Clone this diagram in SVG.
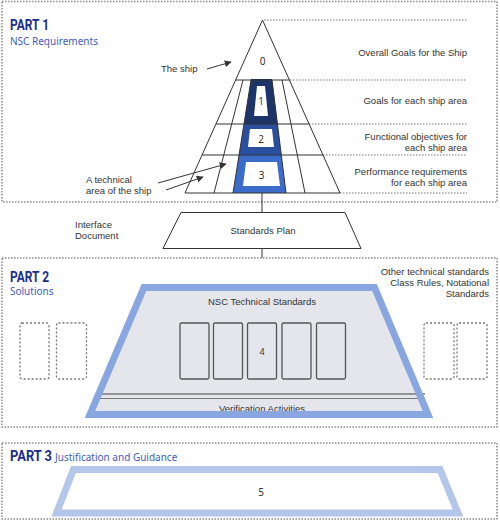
<svg xmlns="http://www.w3.org/2000/svg" width="500" height="523" viewBox="0 0 500 523">
<defs>
<style>
.box{fill:none;stroke:#8a8a8a;stroke-width:1.5;stroke-dasharray:1.5 1.5}
.dot{fill:none;stroke:#777;stroke-width:1.2;stroke-dasharray:1.5 1.5}
.ln{fill:none;stroke:#333;stroke-width:1}
.t{font-family:"Liberation Sans","Noto Sans",sans-serif;font-size:9.5px;fill:#333}
.r{text-anchor:end}
.c{text-anchor:middle}
.part{font-family:"Roboto","Liberation Sans",sans-serif;font-weight:bold;font-size:14px;fill:#1b2d8c}
.sub{font-family:"Noto Sans","Open Sans",sans-serif;font-size:10px;fill:#3f5cb8}
.num{font-family:"Noto Sans","Open Sans",sans-serif;font-size:10px;fill:#333;text-anchor:middle}
.std{fill:#e5e6eb;stroke:#555;stroke-width:1.3}
.dash{fill:none;stroke:#777;stroke-width:1.3;stroke-dasharray:2 2}
</style>
<marker id="ah" viewBox="0 0 10 10" refX="9" refY="5" markerWidth="7" markerHeight="7" orient="auto" markerUnits="userSpaceOnUse">
<path d="M0,0 L10,5 L0,10 z" fill="#333"/>
</marker>
</defs>
<rect width="500" height="523" fill="#fff"/>

<g id="part1">
<rect class="box" x="2" y="1.5" width="495" height="200.5"/>
<text class="part" x="10" y="30" textLength="39" lengthAdjust="spacingAndGlyphs">PART 1</text>
<text class="sub" x="10" y="45">NSC Requirements</text>
</g>

<g id="levels">
<path class="dot" d="M264,20 H467 M290,80 H467 M309,124 H467 M323,155 H467 M340,193 H467"/>
<text class="t r" x="467" y="56">Overall Goals for the Ship</text>
<text class="t r" x="467" y="104">Goals for each ship area</text>
<text class="t r" x="467" y="140">Functional objectives for</text>
<text class="t r" x="467" y="151">each ship area</text>
<text class="t r" x="467" y="175">Performance requirements</text>
<text class="t r" x="467" y="186">for each ship area</text>
</g>

<g id="pyramid">
<polygon points="251,79 272,79 277.5,124 244,124" fill="#1d3468"/>
<polygon points="257,86 265,86 268,116 254,116" fill="#fff"/>
<polygon points="244,124 277.5,124 281.3,155 239,155" fill="#2a4f9e"/>
<polygon points="250,129 272,129 274,147 248,147" fill="#fff"/>
<polygon points="239,155 281.3,155 286,193 233,193" fill="#3b6cca"/>
<polygon points="246,162 277,162 280,186 243,186" fill="#fff"/>
<polygon class="ln" points="262.5,20 340,193 185,193"/>
<path class="ln" d="M235.6,80 H289.4 M215.9,124 H309.1 M202,155 H323 M243,80 L214,193 M282,80 L305,193 M251,80 L233,193 M272,80 L286,193"/>
<text class="num" x="262.5" y="65">0</text>
<text class="num" x="261" y="105">1</text>
<text class="num" x="261" y="143">2</text>
<text class="num" x="261.5" y="179">3</text>
</g>

<g id="labels1">
<text class="t" x="161" y="72">The ship</text>
<text class="t" x="86" y="183">A technical</text>
<text class="t" x="86" y="194">area of the ship</text>
</g>

<g id="connectors">
<line class="ln" x1="207" y1="69" x2="231" y2="62" marker-end="url(#ah)"/>
<line class="ln" x1="158" y1="183" x2="226" y2="164" marker-end="url(#ah)"/>
<line class="ln" x1="166" y1="190" x2="203" y2="177" marker-end="url(#ah)"/>
<line class="ln" x1="262" y1="193" x2="262" y2="212"/>
<line class="ln" x1="262" y1="249" x2="262" y2="258"/>
</g>

<g id="standards-plan">
<polygon class="ln" points="181,212.5 345,212.5 361,248.5 163,248.5" fill="#fff"/>
<text class="t c" x="263" y="234">Standards Plan</text>
<text class="t" x="75" y="228">Interface</text>
<text class="t" x="75" y="239">Document</text>
</g>

<g id="part2">
<rect class="box" x="2" y="258" width="495" height="169"/>
<text class="part" x="10" y="282" textLength="39" lengthAdjust="spacingAndGlyphs">PART 2</text>
<text class="sub" x="10" y="295">Solutions</text>
<text class="t r" x="489" y="275">Other technical standards</text>
<text class="t r" x="489" y="286">Class Rules, Notational</text>
<text class="t r" x="489" y="297">Standards</text>
</g>

<g id="nsc-standards">
<polygon points="144,287.5 374.5,287.5 428,414.5 90,414.5" fill="#e5e6eb"/>
<text class="t c" x="262" y="305">NSC Technical Standards</text>
<rect class="std" x="180" y="323" width="29" height="56" rx="1.5"/>
<rect class="std" x="213.5" y="323" width="29" height="56" rx="1.5"/>
<rect class="std" x="247.5" y="323" width="29" height="56" rx="1.5"/>
<rect class="std" x="282" y="323" width="29" height="56" rx="1.5"/>
<rect class="std" x="316.5" y="323" width="29" height="56" rx="1.5"/>
<text class="num" x="262" y="355" style="font-size:9px">4</text>
<path d="M95,394 H425" stroke="#777" stroke-width="1.6" fill="none"/>
<path d="M95,398.5 H425" stroke="#777" stroke-width="1" fill="none"/>
<text class="t c" x="262" y="412">Verification Activities</text>
<polygon points="144,287.5 374.5,287.5 428,414.5 90,414.5" fill="none" stroke="#88a6df" stroke-width="7"/>
</g>

<g id="other-standards">
<rect class="dash" x="20" y="323" width="29" height="56" rx="2"/>
<rect class="dash" x="56.5" y="323" width="30" height="56" rx="2"/>
<rect class="dash" x="424" y="323" width="30" height="56" rx="2"/>
<rect class="dash" x="457" y="323" width="30" height="56" rx="2"/>
</g>

<g id="part3">
<rect class="box" x="2" y="443" width="495" height="76"/>
<text class="part" x="10" y="461" textLength="42" lengthAdjust="spacingAndGlyphs">PART 3</text>
<text class="sub" x="55" y="461">Justification and Guidance</text>
</g>

<g id="justification">
<polygon points="73.5,469.5 440,469.5 458,513 56.5,513" fill="#fff" stroke="#b4c7ea" stroke-width="7"/>
<text class="num" x="261" y="496">5</text>
</g>
</svg>
